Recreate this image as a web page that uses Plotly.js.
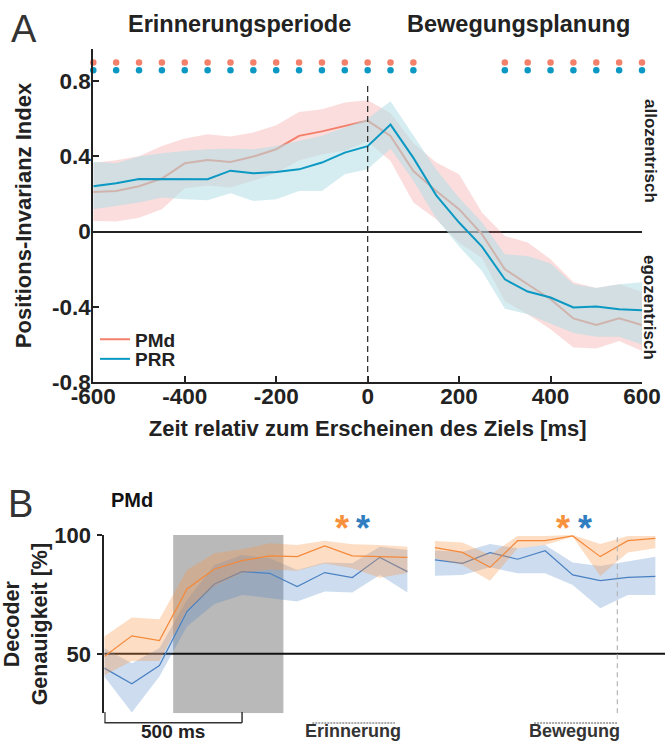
<!DOCTYPE html>
<html>
<head>
<meta charset="utf-8">
<script src="https://cdn.plot.ly/plotly-3.0.1.min.js"></script>
<style>html,body{margin:0;padding:0;background:#fff}#chart{width:665px;height:744px}</style>
</head>
<body>
<div id="chart"></div>
<script>
// ---------- Panel A data ----------
const timeA = [-600,-550,-500,-450,-400,-350,-300,-250,-200,-150,-100,-50,0,50,100,150,200,250,300,350,400,450,500,550,600];
const pmdIndex = [0.211,0.216,0.241,0.282,0.363,0.381,0.370,0.399,0.438,0.509,0.533,0.560,0.590,0.509,0.322,0.216,0.119,-0.014,-0.200,-0.280,-0.360,-0.462,-0.497,-0.461,-0.497];
const pmdUpper = [0.366,0.380,0.400,0.455,0.495,0.518,0.505,0.527,0.565,0.636,0.651,0.686,0.698,0.630,0.470,0.367,0.305,0.101,-0.023,-0.058,-0.147,-0.270,-0.300,-0.280,-0.320];
const pmdLower = [0.056,0.053,0.074,0.119,0.230,0.245,0.235,0.270,0.310,0.380,0.410,0.430,0.480,0.376,0.154,0.066,-0.060,-0.140,-0.370,-0.440,-0.520,-0.617,-0.622,-0.582,-0.635];
const prrIndex = [0.241,0.257,0.280,0.278,0.278,0.278,0.324,0.310,0.317,0.331,0.367,0.420,0.454,0.569,0.392,0.193,0.048,-0.080,-0.254,-0.319,-0.351,-0.404,-0.399,-0.413,-0.419];
const prrUpper = [0.372,0.363,0.399,0.417,0.429,0.438,0.441,0.438,0.455,0.482,0.509,0.553,0.600,0.693,0.509,0.330,0.180,0.050,-0.120,-0.130,-0.170,-0.280,-0.300,-0.280,-0.270];
const prrLower = [0.119,0.136,0.154,0.181,0.172,0.166,0.204,0.163,0.172,0.216,0.216,0.305,0.331,0.440,0.270,0.070,-0.080,-0.210,-0.410,-0.440,-0.490,-0.540,-0.560,-0.560,-0.600];
const sigTimes = [-600,-550,-500,-450,-400,-350,-300,-250,-200,-150,-100,-50,0,50,100,300,350,400,450,500,550,600];
const tickValsA = [-600,-400,-200,0,200,400,600];
const tickTextA = ['-600','-400','-200','0','200','400','600'];
const yTickValsA = [-0.8,-0.4,0,0.4,0.8];
const yTickTextA = ['-0.8','-0.4','0','0.4','0.8'];

// ---------- Panel B data ----------
const timeB1 = [0,100,200,300,400,500,600,700,800,900,1000,1100];
const timeB2 = [1200,1300,1400,1500,1600,1700,1800,1900,2000];
const orangeAcc1 = [48.9,57.6,55.6,77.3,85.7,89.2,91.2,90.9,95.4,91.2,90.9,90.6];
const orangeUp1  = [57.3,65.3,64.6,85.3,92.3,94.0,96.5,95.8,97.6,96.1,95.8,95.1];
const orangeLo1  = [41.0,47.0,47.0,68.5,78.5,84.0,85.5,85.0,88.0,86.0,82.0,84.0];
const blueAcc1   = [44.0,37.4,45.1,67.8,79.4,84.6,83.9,78.3,84.2,82.1,90.6,84.6];
const blueUp1    = [52.4,46.1,52.4,72.7,87.4,91.6,90.2,85.3,88.4,88.1,95.1,93.7];
const blueLo1    = [40.5,25.3,40.5,61.5,71.0,74.8,73.4,72.0,76.2,75.8,83.2,75.8];
const orangeAcc2 = [94.7,92.7,86.4,97.6,97.6,99.6,90.9,97.6,98.6];
const orangeUp2  = [97.5,96.8,91.6,99.6,99.6,100.0,96.2,99.6,99.6];
const orangeLo2  = [90.2,87.4,80.8,94.4,95.8,99.3,82.8,92.6,94.4];
const blueAcc2   = [89.5,88.1,92.6,89.8,93.4,83.2,80.8,82.2,82.6];
const blueUp2    = [93.5,93.0,96.2,94.4,95.8,88.4,87.0,88.8,90.9];
const blueLo2    = [82.9,83.2,86.4,83.9,83.9,79.0,69.2,74.8,74.8];
const yTickValsB = [50,100];
const yTickTextB = ['50','100'];

// ---------- styling ----------
const FONT = 'Liberation Sans, Arial, Helvetica, sans-serif';
const C_PMD = '#f2806b', C_PRR = '#0b98c3';
const C_ORG = '#f5893a', C_BLU = '#4a80c2';
const W = 665, H = 744;
const px = v => v / W;
const py = v => 1 - v / H;

function band(x, up, lo, color, xa, ya) {
  return {x: x.concat(x.slice().reverse()), y: up.concat(lo.slice().reverse()),
    xaxis: xa, yaxis: ya, type: 'scatter', mode: 'lines', fill: 'toself',
    fillcolor: color, line: {width: 0}, hoverinfo: 'skip', showlegend: false};
}
function line(x, y, color, w, xa, ya, name, leg) {
  const t = {x: x, y: y, xaxis: xa, yaxis: ya, type: 'scatter', mode: 'lines',
    line: {color: color, width: w}, name: name, showlegend: !!leg};
  if (leg) t.legend = leg;
  return t;
}

const traces = [
  band(timeA, pmdUpper, pmdLower, 'rgba(240,120,120,0.25)', 'x', 'y'),
  line(timeA, pmdIndex, C_PMD, 2, 'x', 'y', 'PMd', 'legend'),
  band(timeA, prrUpper, prrLower, 'rgba(178,222,230,0.55)', 'x', 'y'),
  line(timeA, prrIndex, C_PRR, 2, 'x', 'y', 'PRR', 'legend2'),
  {x: sigTimes, y: sigTimes.map(() => 0.899), xaxis: 'x', yaxis: 'y', type: 'scatter', mode: 'markers',
   marker: {color: C_PMD, size: 6.5}, cliponaxis: false, showlegend: false},
  {x: sigTimes, y: sigTimes.map(() => 0.858), xaxis: 'x', yaxis: 'y', type: 'scatter', mode: 'markers',
   marker: {color: C_PRR, size: 6.5}, cliponaxis: false, showlegend: false},
  band(timeB1, blueUp1, blueLo1, 'rgba(70,128,195,0.27)', 'x2', 'y2'),
  band(timeB2, blueUp2, blueLo2, 'rgba(70,128,195,0.27)', 'x2', 'y2'),
  line(timeB1, blueAcc1, C_BLU, 1.2, 'x2', 'y2', 'blau', null),
  line(timeB2, blueAcc2, C_BLU, 1.2, 'x2', 'y2', 'blau', null),
  band(timeB1, orangeUp1, orangeLo1, 'rgba(250,150,70,0.32)', 'x2', 'y2'),
  band(timeB2, orangeUp2, orangeLo2, 'rgba(250,150,70,0.32)', 'x2', 'y2'),
  line(timeB1, orangeAcc1, C_ORG, 1.2, 'x2', 'y2', 'orange', null),
  line(timeB2, orangeAcc2, C_ORG, 1.2, 'x2', 'y2', 'orange', null)
];

const tickFont = {family: FONT, size: 22.5, color: '#222', weight: 'bold'};
const titleFont = {family: FONT, size: 22, color: '#222', weight: 'bold'};
const legFont = {family: FONT, size: 19, color: '#222', weight: 'bold'};

function ann(text, xref, x, y, size, opts) {
  return Object.assign({text: text, xref: xref, yref: 'paper', x: x, y: y, xanchor: 'center', yanchor: 'middle',
    showarrow: false, font: {family: FONT, size: size, color: '#222', weight: 'bold'}}, opts || {});
}

const layout = {
  width: W, height: H,
  margin: {l: 0, r: 0, t: 0, b: 0},
  paper_bgcolor: '#fff', plot_bgcolor: 'rgba(0,0,0,0)',
  font: {family: FONT, color: '#222'},
  showlegend: true,
  legend: {x: px(95), xanchor: 'left', y: py(320.5), yanchor: 'top', bgcolor: 'rgba(0,0,0,0)',
    font: legFont, itemwidth: 30},
  legend2: {x: px(95), xanchor: 'left', y: py(340), yanchor: 'top', bgcolor: 'rgba(0,0,0,0)',
    font: legFont, itemwidth: 30},
  xaxis: {domain: [px(93.3), px(642)], range: [-600, 600], anchor: 'y',
    showline: true, linecolor: '#222', linewidth: 2, ticks: 'inside', ticklen: 6, tickwidth: 2, tickcolor: '#222',
    tickvals: tickValsA, ticktext: tickTextA, tickfont: tickFont, showgrid: false, zeroline: false,
    automargin: false, ticklabelstandoff: -7,
    title: {text: 'Zeit relativ zum Erscheinen des Ziels [ms]', font: titleFont, standoff: 13}},
  yaxis: {domain: [py(382), py(49)], range: [-0.8, 0.971], anchor: 'x',
    showline: true, linecolor: '#222', linewidth: 2, ticks: 'inside', ticklen: 6, tickwidth: 2, tickcolor: '#222',
    tickvals: yTickValsA, ticktext: yTickTextA, tickfont: tickFont, showgrid: false,
    zeroline: true, zerolinecolor: '#222', zerolinewidth: 2, automargin: false, ticklabelstandoff: -4,
    title: {text: 'Positions-Invarianz Index', font: titleFont, standoff: 14}},
  xaxis2: {domain: [px(104.3), 1], range: [0, 2035], anchor: 'y2', visible: false},
  yaxis2: {domain: [py(713.3), py(535)], range: [25, 100], anchor: 'x2',
    showline: true, linecolor: '#222', linewidth: 2, ticks: 'outside', ticklen: 5, tickwidth: 2, tickcolor: '#222',
    tickvals: yTickValsB, ticktext: yTickTextB, tickfont: {family: FONT, size: 22, color: '#222', weight: 'bold'},
    showgrid: false, zeroline: false, automargin: false, ticklabelstandoff: 2,
    title: {text: 'Decoder<br>Genauigkeit [%]', font: {family: FONT, size: 21.5, color: '#222', weight: 'bold'}, standoff: 7}},
  shapes: [
    {type: 'line', xref: 'x', yref: 'y', x0: 0, x1: 0, y0: -0.8, y1: 0.79,
     line: {color: '#333', width: 1.3, dash: '6px,4px'}},
    {type: 'rect', xref: 'x2', yref: 'y2', x0: 250, x1: 650, y0: 25, y1: 100,
     fillcolor: 'rgb(185,185,185)', line: {width: 0}, layer: 'below'},
    {type: 'line', xref: 'x2', yref: 'y2', x0: 0, x1: 2035, y0: 50, y1: 50,
     line: {color: '#111', width: 2}, layer: 'below'},
    {type: 'line', xref: 'x2', yref: 'y2', x0: 1862, x1: 1862, y0: 25, y1: 100,
     line: {color: '#b5b5b5', width: 1.2, dash: '5px,4px'}},
    {type: 'line', xref: 'x2', yref: 'paper', x0: 0, x1: 500, y0: py(722.7), y1: py(722.7),
     line: {color: '#333', width: 1.5}},
    {type: 'line', xref: 'x2', yref: 'paper', x0: 2, x1: 2, y0: py(722.7), y1: py(712),
     line: {color: '#333', width: 1.5}},
    {type: 'line', xref: 'x2', yref: 'paper', x0: 500, x1: 500, y0: py(722.7), y1: py(712),
     line: {color: '#333', width: 1.5}},
    {type: 'line', xref: 'x2', yref: 'paper', x0: 755, x1: 1055, y0: py(723), y1: py(723),
     line: {color: '#555', width: 1, dash: '2px,1px'}},
    {type: 'line', xref: 'x2', yref: 'paper', x0: 1560, x1: 1862, y0: py(723), y1: py(723),
     line: {color: '#555', width: 1, dash: '2px,1px'}}
  ],
  annotations: [
    ann('A', 'paper', px(23.5), py(29), 38, {font: {family: FONT, size: 38, color: '#333'}}),
    ann('Erinnerungsperiode', 'paper', px(239), py(24), 23.5),
    ann('Bewegungsplanung', 'paper', px(518), py(24), 23.5),
    ann('allozentrisch', 'paper', px(650), py(151), 17, {textangle: 90}),
    ann('egozentrisch', 'paper', px(650), py(307), 17, {textangle: 90}),
    ann('B', 'paper', px(20.5), py(504), 38, {font: {family: FONT, size: 38, color: '#333'}}),
    ann('PMd', 'paper', px(131.5), py(500), 20, {font: {family: FONT, size: 20, color: '#111', weight: 'bold'}}),
    ann('*', 'x2', 862, py(528), 36, {font: {family: FONT, size: 36, color: '#f7913d', weight: 'bold'}}),
    ann('*', 'x2', 940, py(528), 36, {font: {family: FONT, size: 36, color: '#2f7ec1', weight: 'bold'}}),
    ann('*', 'x2', 1664, py(528), 36, {font: {family: FONT, size: 36, color: '#f7913d', weight: 'bold'}}),
    ann('*', 'x2', 1745, py(528), 36, {font: {family: FONT, size: 36, color: '#2f7ec1', weight: 'bold'}}),
    ann('500 ms', 'x2', 249, py(731), 19),
    ann('Erinnerung', 'x2', 903, py(731), 18, {font: {family: FONT, size: 18, color: '#333', weight: 'bold'}}),
    ann('Bewegung', 'x2', 1708, py(731), 18, {font: {family: FONT, size: 18, color: '#333', weight: 'bold'}})
  ]
};

Plotly.newPlot('chart', traces, layout, {staticPlot: true, displayModeBar: false});
</script>
</body>
</html>
